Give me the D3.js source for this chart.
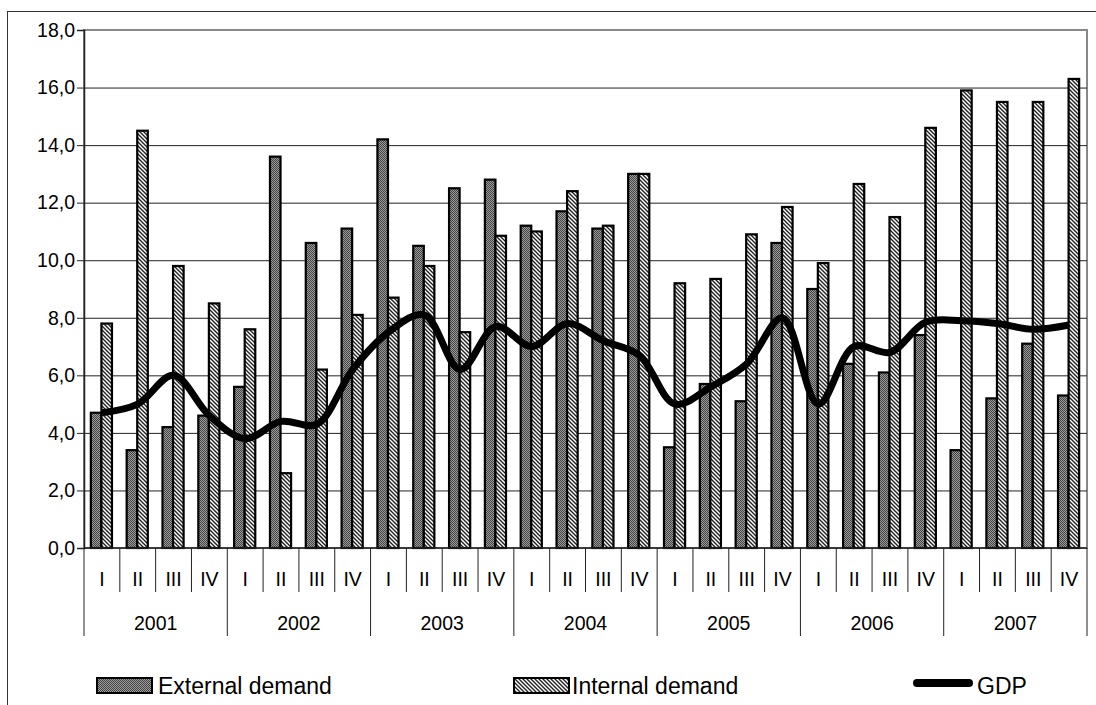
<!DOCTYPE html>
<html>
<head>
<meta charset="utf-8">
<script src="https://cdn.jsdelivr.net/npm/d3@7"></script>
<style>
  body { margin: 0; background: #fff; }
  svg text { font-family: "Liberation Sans", Arial, sans-serif; fill: #000; }
</style>
</head>
<body>
<div id="chart"></div>
<script>
// data
let years = ["2001", "2002", "2003", "2004", "2005", "2006", "2007"];
let quarters = ["I", "II", "III", "IV"];
let externalDemand = [4.7, 3.4, 4.2, 4.6,  5.6, 13.6, 10.6, 11.1,  14.2, 10.5, 12.5, 12.8,
                      11.2, 11.7, 11.1, 13.0,  3.5, 5.7, 5.1, 10.6,  9.0, 6.4, 6.1, 7.4,  3.4, 5.2, 7.1, 5.3];
let internalDemand = [7.8, 14.5, 9.8, 8.5,  7.6, 2.6, 6.2, 8.1,  8.7, 9.8, 7.5, 10.85,
                      11.0, 12.4, 11.2, 13.0,  9.2, 9.35, 10.9, 11.85,  9.9, 12.65, 11.5, 14.6,  15.9, 15.5, 15.5, 16.3];
let gdp = [4.7, 5.0, 6.0, 4.6,  3.8, 4.4, 4.3, 6.2,  7.5, 8.1, 6.2, 7.7,
           7.0, 7.8, 7.2, 6.7,  5.0, 5.6, 6.4, 8.0,  5.0, 7.0, 6.8, 7.85,  7.9, 7.8, 7.6, 7.75];
let yTicks = [0, 2, 4, 6, 8, 10, 12, 14, 16, 18];
let legendNames = ["External demand", "Internal demand", "GDP"];

let width = 1096, height = 705;
let plot = { left: 84, top: 30, right: 1087, bottom: 548 };

let svg = d3.select("#chart").append("svg")
    .attr("width", width)
    .attr("height", height);

// patterns for the two bar series
let defs = svg.append("defs");
let dots = defs.append("pattern")
    .attr("id", "dots")
    .attr("width", 2).attr("height", 2)
    .attr("patternUnits", "userSpaceOnUse");
dots.append("rect").attr("width", 2).attr("height", 2).attr("fill", "#9a9a9a");
dots.append("rect").attr("width", 1).attr("height", 1).attr("fill", "#454545");
dots.append("rect").attr("x", 1).attr("y", 1).attr("width", 1).attr("height", 1).attr("fill", "#454545");

let hatch = defs.append("pattern")
    .attr("id", "hatch")
    .attr("width", 4).attr("height", 4)
    .attr("patternUnits", "userSpaceOnUse");
hatch.append("rect").attr("width", 4).attr("height", 4).attr("fill", "#fff");
hatch.append("path")
    .attr("d", "M-1,-1 L5,5 M-1,3 L1,5 M3,-1 L5,1")
    .attr("stroke", "#222")
    .attr("stroke-width", 1.4);

// outer frame
svg.append("rect")
    .attr("x", 7.5).attr("y", 11.5)
    .attr("width", 1100).attr("height", 700)
    .attr("fill", "none")
    .attr("stroke", "#333");

// categories
let cats = [];
years.forEach(function (y) {
    quarters.forEach(function (q) { cats.push(y + "-" + q); });
});

let x = d3.scaleBand()
    .domain(cats)
    .range([plot.left, plot.right])
    .padding(0);

let y = d3.scaleLinear()
    .domain([0, 18])
    .range([plot.bottom, plot.top]);

// plot area border (gray top/right)
svg.append("rect")
    .attr("x", plot.left).attr("y", plot.top)
    .attr("width", plot.right - plot.left).attr("height", plot.bottom - plot.top)
    .attr("fill", "none")
    .attr("stroke", "#888")
    .attr("stroke-width", 2);

// gridlines
svg.append("g")
    .selectAll("line")
    .data(yTicks.filter(d => d > 0 && d < 18))
    .join("line")
    .attr("x1", plot.left).attr("x2", plot.right)
    .attr("y1", d => y(d) + 0.5).attr("y2", d => y(d) + 0.5)
    .attr("stroke", "#222")
    .attr("stroke-width", 1);

// y axis
let yAxis = svg.append("g")
    .attr("transform", `translate(${plot.left},0)`)
    .call(d3.axisLeft(y).tickValues(yTicks).tickSize(7).tickPadding(2)
        .tickFormat(d => d3.format(".1f")(d).replace(".", ",")));
yAxis.select(".domain").attr("stroke", "#222").attr("stroke-width", 1.5);
yAxis.selectAll(".tick line").attr("stroke", "#222");
yAxis.selectAll("text").style("font-size", "19.5px").attr("fill", "#000");

// bars
let bw = x.bandwidth() * 0.295;
let barData = cats.map(function (c, i) {
    return { cat: c, ext: externalDemand[i], int: internalDemand[i] };
});

let groups = svg.append("g").selectAll("g")
    .data(barData)
    .join("g");

groups.append("rect")
    .attr("x", d => x(d.cat) + x.bandwidth() / 2 - bw - 0.5)
    .attr("y", d => y(d.ext))
    .attr("width", bw)
    .attr("height", d => y(0) - y(d.ext))
    .attr("fill", "url(#dots)")
    .attr("stroke", "#000")
    .attr("stroke-width", 2.2);

groups.append("rect")
    .attr("x", d => x(d.cat) + x.bandwidth() / 2 - 0.5)
    .attr("y", d => y(d.int))
    .attr("width", bw)
    .attr("height", d => y(0) - y(d.int))
    .attr("fill", "url(#hatch)")
    .attr("stroke", "#000")
    .attr("stroke-width", 2.2);

// gdp line
svg.append("path")
    .datum(gdp)
    .attr("fill", "none")
    .attr("stroke", "#000")
    .attr("stroke-width", 7)
    .attr("stroke-linejoin", "round")
    .attr("d", d3.line()
        .curve(d3.curveCatmullRom.alpha(0.5))
        .x((d, i) => x(cats[i]) + x.bandwidth() / 2)
        .y(d => y(d)));

// x axis line
svg.append("line")
    .attr("x1", plot.left).attr("x2", plot.right)
    .attr("y1", plot.bottom).attr("y2", plot.bottom)
    .attr("stroke", "#222").attr("stroke-width", 1.5);

// category separators
let seps = d3.range(cats.length + 1);
svg.append("g").selectAll("line")
    .data(seps)
    .join("line")
    .attr("x1", i => (i < cats.length ? x(cats[i]) : plot.right))
    .attr("x2", i => (i < cats.length ? x(cats[i]) : plot.right))
    .attr("y1", plot.bottom)
    .attr("y2", i => (i % 4 === 0 ? 636 : 592))
    .attr("stroke", "#222")
    .attr("stroke-width", 1);

// quarter labels
svg.append("g").selectAll("text")
    .data(cats)
    .join("text")
    .attr("x", d => x(d) + x.bandwidth() / 2)
    .attr("y", 586)
    .attr("text-anchor", "middle")
    .style("font-size", "19.5px")
    .text(d => d.split("-")[1]);

// year labels
svg.append("g").selectAll("text")
    .data(years)
    .join("text")
    .attr("x", d => x(d + "-I") + x.bandwidth() * 2)
    .attr("y", 630)
    .attr("text-anchor", "middle")
    .style("font-size", "19.5px")
    .text(d => d);

// legend
let legend = svg.append("g");
legend.append("rect")
    .attr("x", 97).attr("y", 678).attr("width", 55).attr("height", 15)
    .attr("fill", "url(#dots)").attr("stroke", "#000").attr("stroke-width", 2);
legend.append("text")
    .attr("x", 158).attr("y", 694)
    .style("font-size", "23px")
    .text(legendNames[0]);

legend.append("rect")
    .attr("x", 514).attr("y", 678).attr("width", 55).attr("height", 15)
    .attr("fill", "url(#hatch)").attr("stroke", "#000").attr("stroke-width", 2);
legend.append("text")
    .attr("x", 572).attr("y", 694)
    .style("font-size", "23px")
    .text(legendNames[1]);

legend.append("line")
    .attr("x1", 917).attr("x2", 969).attr("y1", 683).attr("y2", 683)
    .attr("stroke", "#000").attr("stroke-width", 8).attr("stroke-linecap", "round");
legend.append("text")
    .attr("x", 977).attr("y", 694)
    .style("font-size", "23px")
    .text(legendNames[2]);
</script>
</body>
</html>
